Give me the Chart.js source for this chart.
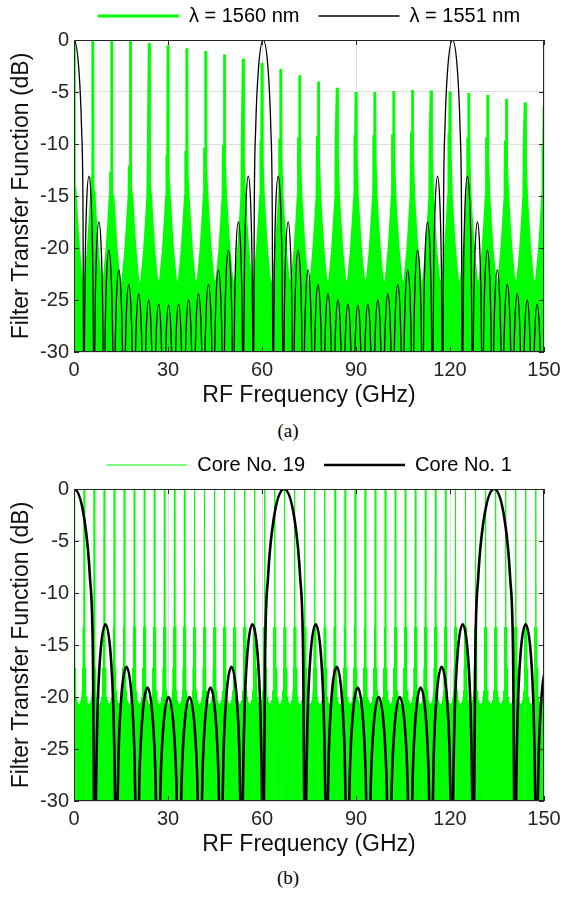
<!DOCTYPE html>
<html>
<head>
<meta charset="utf-8">
<script src="https://cdn.jsdelivr.net/npm/chart.js@4.4.1/dist/chart.umd.min.js"></script>
<style>
  html, body { margin: 0; padding: 0; background: #fff; }
  body { width: 576px; height: 897px; position: relative; overflow: hidden; }
  .panel { position: absolute; left: 0; width: 576px; height: 410px; }
  .caption { position: absolute; left: 0; width: 576px; text-align: center;
    font-family: "Liberation Serif", "Times New Roman", serif; font-size: 19px; color: #000; }
</style>
</head>
<body>
<div class="panel" style="top:0"><canvas id="chartA" width="576" height="410"></canvas></div>
<div class="caption" style="top:420px">(a)</div>
<div class="panel" style="top:449px"><canvas id="chartB" width="576" height="410"></canvas></div>
<div class="caption" style="top:867px">(b)</div>
<script>
// axes
const freqTicks = [0, 30, 60, 90, 120, 150];
const dbTicks = [0, -5, -10, -15, -20, -25, -30];

// (a) lambda = 1551 nm : nulls (GHz) and the top of each lobe between them (dB)
const lambda1551Nulls = [-3.18, 3.18, 6.36, 9.54, 12.72, 15.89, 19.07, 22.25, 25.43, 28.61, 31.79, 34.97, 38.15, 41.33, 44.50, 47.68, 50.86, 54.04, 57.22,
  63.58, 66.76, 69.94, 73.12, 76.29, 79.47, 82.65, 85.83, 89.01, 92.19, 95.37, 98.55, 101.73, 104.91, 108.08, 111.26, 114.44, 117.62,
  123.98, 127.16, 130.34, 133.51, 136.69, 139.87, 143.05, 146.23, 149.41, 152.59];
const lambda1551LobeDb = [0, -13.1, -17.5, -20.2, -22.1, -23.5, -24.4, -25.0, -25.4, -25.5, -25.4, -25.0, -24.4, -23.5, -22.1, -20.2, -17.5, -13.1,
  0, -13.1, -17.5, -20.2, -22.1, -23.5, -24.4, -25.0, -25.4, -25.5, -25.4, -25.0, -24.4, -23.5, -22.1, -20.2, -17.5, -13.1,
  0, -13.1, -17.5, -20.2, -22.1, -23.5, -24.4, -25.0, -25.4, -25.5];

// (a) lambda = 1560 nm : comb peaks, the shoulder under each peak and the valley floor between peaks
const lambda1560Peaks = [0, 6, 12, 18, 24, 30, 36, 42, 48, 54, 60, 66, 72, 78, 84, 90, 96, 102, 108, 114, 120, 126, 132, 138, 144, 150];
const lambda1560PeakDb = [0, 0, 0, -0.1, -0.3, -0.5, -0.8, -1.05, -1.4, -1.8, -2.2, -2.8, -3.4, -4.0, -4.6, -5.0, -5.0, -4.9, -4.8, -4.85, -4.95, -5.1, -5.3, -5.65, -6.0, -6.4];
const lambda1560ShoulderDb = [-13.5, -13.3, -12.8, -12.2, -11.8, -11.2, -10.8, -10.5, -10.2, -10.0, -9.8, -9.6, -9.5, -9.4, -9.3, -9.3, -9.3, -9.2, -9.0, -9.0, -9.2, -9.5, -9.5, -9.8, -10.0, -10.2];
const lambda1560ValleyDb = [-24.6, -24.4, -24.2, -24.5, -24.0, -24.3, -24.0, -24.2, -24.0, -23.8, -24.1, -23.9, -24.3, -24.0, -24.2, -23.9, -24.1, -24.3, -24.0, -23.8, -24.2, -24.0, -24.2, -23.9, -24.1];
// skirt of every comb peak: distance from the peak (GHz) and level (dB)
const skirtOffsetGhz = [0.45, 0.9, 1.5, 2.3];
const skirtDb = [-15.0, -17.4, -20.2, -22.8];

// (b) Core No. 1 : nulls (GHz) and lobe tops (dB)
const core1Nulls = [-6.7, 6.7, 13.4, 20.1, 26.8, 33.5, 40.2, 46.9, 53.6, 60.3,
  73.8, 80.5, 87.2, 93.9, 100.6, 107.3, 114.0, 120.7, 127.4, 140.8, 147.5, 154.2];
const core1LobeDb = [0, -13.0, -17.1, -19.1, -20.0, -20.0, -19.1, -17.1, -13.0,
  0, -13.0, -17.1, -19.1, -20.0, -20.0, -19.1, -17.1, -13.0, 0, -13.0, -17.1];

// (b) Core No. 19 : passband peaks (GHz) and the sidelobe levels inside one period (dB)
const core19Peaks = [0, 3.20, 6.41, 9.61, 12.82, 16.02, 19.22, 22.43, 25.63, 28.84, 32.04, 35.24, 38.45, 41.65, 44.86, 48.06,
  51.26, 54.47, 57.67, 60.88, 64.08, 67.28, 70.49, 73.69, 76.90, 80.10, 83.30, 86.51, 89.71, 92.92, 96.12, 99.32,
  102.53, 105.73, 108.94, 112.14, 115.34, 118.55, 121.75, 124.96, 128.16, 131.36, 134.57, 137.77, 140.98, 144.18, 147.38, 150.59];
const core19SideDb = [-13.3, -17.2, -19.4, -20.0, -20.3, -20.5, -20.6, -20.7, -20.7, -20.7, -20.6, -20.5, -20.3, -20.0, -19.4, -17.2, -13.3];
const CORE19_PEAK_DB = 0;

const NULL_DB = -40; // nulls go below the plotted range and get clipped
const GREEN = '#00ff00';
const FONT = '"Liberation Sans", Arial, sans-serif';

// shape of a lobe between two nulls: relative position and drop from the lobe top
const lobeAt = [0.05, 0.12, 0.25, 0.5, 0.75, 0.88, 0.95];
const lobeDrop = [-16, -8.5, -3, 0, -3, -8.5, -16];

function lobeCurve(nulls, tops) {
  const pts = [];
  tops.forEach((top, i) => {
    const a = nulls[i], b = nulls[i + 1];
    pts.push({x: a, y: NULL_DB});
    lobeAt.forEach((t, k) => pts.push({x: a + t * (b - a), y: Math.max(NULL_DB, top + lobeDrop[k])}));
  });
  pts.push({x: nulls[nulls.length - 1], y: NULL_DB});
  return pts;
}

// dense comb: main peak, then null / sidelobe pairs up to the next peak
function combCurve(peaks, sideDb) {
  const pts = [];
  for (let n = 0; n < peaks.length - 1; n++) {
    const c = peaks[n];
    const step = (peaks[n + 1] - c) / (sideDb.length + 2);
    pts.push({x: c, y: CORE19_PEAK_DB});
    for (let k = 1; k <= sideDb.length + 1; k++) {
      pts.push({x: c + k * step, y: NULL_DB});
      if (k <= sideDb.length) pts.push({x: c + (k + 0.5) * step, y: sideDb[k - 1]});
    }
  }
  pts.push({x: peaks[peaks.length - 1], y: CORE19_PEAK_DB});
  return pts;
}

// upper edge of the 1560 nm response, filled down to the axis
function peakEnvelope(peaks, peakDb, shoulderDb, valleyDb) {
  const pts = [];
  peaks.forEach((c, n) => {
    for (let k = skirtOffsetGhz.length - 1; k >= 0; k--) pts.push({x: c - skirtOffsetGhz[k], y: skirtDb[k]});
    pts.push({x: c - 0.35, y: shoulderDb[n]});
    pts.push({x: c - 0.12, y: shoulderDb[n]});
    pts.push({x: c, y: peakDb[n]});
    pts.push({x: c + 0.1, y: shoulderDb[n] - 2});
    skirtOffsetGhz.forEach((o, k) => pts.push({x: c + o, y: skirtDb[k]}));
    if (n < valleyDb.length) pts.push({x: (c + peaks[n + 1]) / 2, y: valleyDb[n]});
  });
  return pts;
}

// box and inward tick marks
const axisBox = {
  id: 'axisBox',
  afterDatasetsDraw(chart) {
    const {ctx, chartArea: a, scales: {x, y}} = chart;
    ctx.save();
    ctx.strokeStyle = '#262626';
    ctx.lineWidth = 1;
    ctx.strokeRect(a.left + 0.5, a.top + 0.5, a.width - 1, a.height - 1);
    ctx.beginPath();
    x.ticks.forEach(t => {
      const px = Math.round(x.getPixelForValue(t.value)) + 0.5;
      ctx.moveTo(px, a.bottom); ctx.lineTo(px, a.bottom - 5);
      ctx.moveTo(px, a.top); ctx.lineTo(px, a.top + 5);
    });
    y.ticks.forEach(t => {
      const py = Math.round(y.getPixelForValue(t.value)) + 0.5;
      ctx.moveTo(a.left, py); ctx.lineTo(a.left + 5, py);
      ctx.moveTo(a.right, py); ctx.lineTo(a.right - 5, py);
    });
    ctx.stroke();
    ctx.restore();
  }
};

function makeOptions() {
  return {
    responsive: false,
    animation: false,
    events: [],
    parsing: false,
    normalized: true,
    layout: {padding: {top: -13, left: 11, right: 32, bottom: 0}},
    elements: {point: {radius: 0}},
    plugins: {
      tooltip: {enabled: false},
      legend: {
        position: 'top',
        fullSize: false,
        labels: {
          usePointStyle: true, pointStyle: 'line', pointStyleWidth: 81,
          padding: 19, color: '#000', font: {size: 20, family: FONT},
          sort: (a, b) => a.datasetIndex - b.datasetIndex
        }
      }
    },
    scales: {
      x: {
        type: 'linear', min: 0, max: 150,
        afterBuildTicks: s => { s.ticks = freqTicks.map(v => ({value: v})); },
        afterFit: s => { s.height = 58; },
        grid: {color: '#dedede', drawTicks: false},
        border: {display: false},
        ticks: {color: '#262626', padding: 6, font: {size: 20, family: FONT}, maxRotation: 0},
        title: {display: true, text: 'RF Frequency (GHz)', color: '#111', padding: {top: 0, bottom: 2.5},
          font: {size: 23, family: FONT, lineHeight: 1}}
      },
      xTop: {
        type: 'linear', position: 'top', axis: 'x', min: 0, max: 150,
        afterFit: s => { s.height = 4; },
        grid: {display: false}, border: {display: false}, ticks: {display: false}
      },
      y: {
        type: 'linear', min: -30, max: 0,
        afterBuildTicks: s => { s.ticks = dbTicks.map(v => ({value: v})); },
        afterFit: s => { s.width = 63; },
        grid: {color: '#dedede', drawTicks: false},
        border: {display: false},
        ticks: {color: '#262626', padding: 5, font: {size: 20, family: FONT}},
        title: {display: true, text: 'Filter Transfer Function (dB)', color: '#111', padding: {top: -0.5, bottom: 0},
          font: {size: 23, family: FONT, lineHeight: 1}}
      }
    }
  };
}

function lineSet(label, data, color, width, order, extra) {
  return Object.assign({
    label, data, order,
    borderColor: color, borderWidth: width,
    pointBorderColor: color, pointBorderWidth: width, pointRadius: 0,
    backgroundColor: color, fill: false, tension: 0
  }, extra || {});
}

new Chart(document.getElementById('chartA'), {
  type: 'line',
  data: {
    datasets: [
      lineSet('\u03bb = 1560 nm', peakEnvelope(lambda1560Peaks, lambda1560PeakDb, lambda1560ShoulderDb, lambda1560ValleyDb),
        GREEN, 2.8, 1, {fill: 'start'}),
      lineSet('\u03bb = 1551 nm', lobeCurve(lambda1551Nulls, lambda1551LobeDb), '#000', 1.3, 0,
        {cubicInterpolationMode: 'monotone', capBezierPoints: false})
    ]
  },
  options: makeOptions(),
  plugins: [axisBox]
});

new Chart(document.getElementById('chartB'), {
  type: 'line',
  data: {
    datasets: [
      lineSet('Core No. 19', combCurve(core19Peaks, core19SideDb), GREEN, 1, 1),
      lineSet('Core No. 1', lobeCurve(core1Nulls, core1LobeDb), '#000', 2.6, 0,
        {cubicInterpolationMode: 'monotone', capBezierPoints: false})
    ]
  },
  options: makeOptions(),
  plugins: [axisBox]
});
</script>
</body>
</html>
